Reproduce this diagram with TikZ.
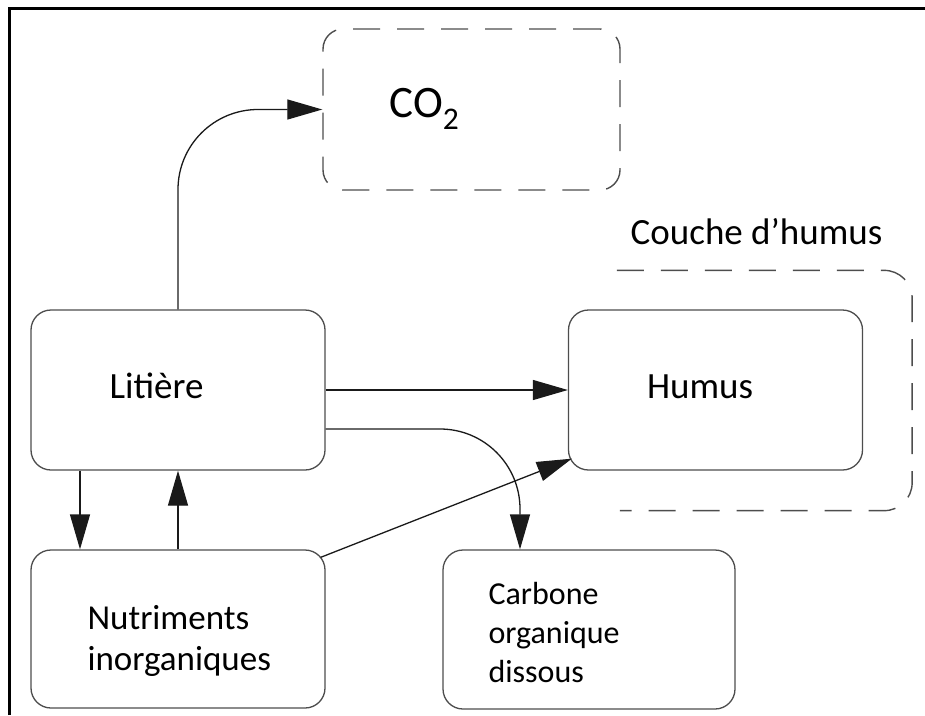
\documentclass[tikz,border=0pt]{standalone}
\usepackage{fontspec}
\setmainfont{Carlito}
\usetikzlibrary{arrows.meta, positioning, calc}
\definecolor{Ink}{HTML}{1A1A1A}
\definecolor{Edge}{HTML}{4D4D4D}

\begin{document}
\begin{tikzpicture}[
        x=1pt, y=-1pt,
        font=\fontsize{37}{41}\selectfont,
        flow/.style={-{Triangle[length=35pt,width=20pt]}, line width=1.3pt, draw=Ink},
        pool/.style={draw=Edge, fill=white, rounded corners=20pt, line width=1.3pt, minimum width=294pt, minimum height=160pt, inner sep=0pt},
        zone/.style={draw=Edge, line width=1.4pt, dash pattern=on 27pt off 17pt},
        txt/.style={inner sep=0pt, anchor=base west, align=left}
      ]
        \useasboundingbox (0,0) rectangle (925,715);
        \draw[line width=2.5pt, draw=black] (9.5,715) -- (9.5,8.5) -- (925,8.5);
        \node[pool, zone, minimum width=297pt, minimum height=161pt] (co2) at (471.5,109.5) {};
        \node[pool] (litiere) at (178,390) {};
        \node[pool] (humus) at (715.5,390) {};
        \node[pool, minimum height=158pt] (nutr) at (178,629) {};
        \node[pool, minimum width=292pt, minimum height=159pt] (carbone) at (589,629.5) {};
        \draw[zone, rounded corners=28pt] ($(humus.north west)+(49,-39)$) -- ($(humus.north east)+(49,-39)$) -- ($(humus.south east)+(49,40)$) -- ($(humus.south west)+(52,40)$);
        \node[txt, font=\fontsize{45}{50}\selectfont] (co2-t) at ($(co2.west)+(67,8)$) {CO\textsubscript{2}};
        \node[txt] (litiere-t) at ($(litiere.west)+(79,8)$) {Litière};
        \node[txt] (humus-t) at ($(humus.west)+(79,8)$) {Humus};
        \node[txt, font=\fontsize{35}{41}\selectfont] (nutr-t) at ($(nutr.west)+(57,41)$) {Nutriments\\inorganiques};
        \node[txt, font=\fontsize{32}{39}\selectfont] (carbone-t) at ($(carbone.west)+(46,52.5)$) {Carbone\\organique\\dissous};
        \node[inner sep=0pt, anchor=base] (couche) at ($(humus.north)+(41,-65)$) {Couche d’humus};
        \draw[flow, rounded corners=80pt] (litiere.north) |- (co2.west);
        \draw[flow] (litiere.east) -- (humus.west);
        \draw[flow, rounded corners=80pt] ([yshift=-39pt]litiere.east) -| ([xshift=-69pt]carbone.north);
        \draw[flow] ([xshift=-98pt]litiere.south) -- ([xshift=-98pt]nutr.north);
        \draw[flow] (nutr.north) -- (litiere.south);
        \draw[flow] ([shift={(-5,8)}]nutr.north east) -- ([shift={(4,-12)}]humus.south west);
      \end{tikzpicture}
\end{document}
